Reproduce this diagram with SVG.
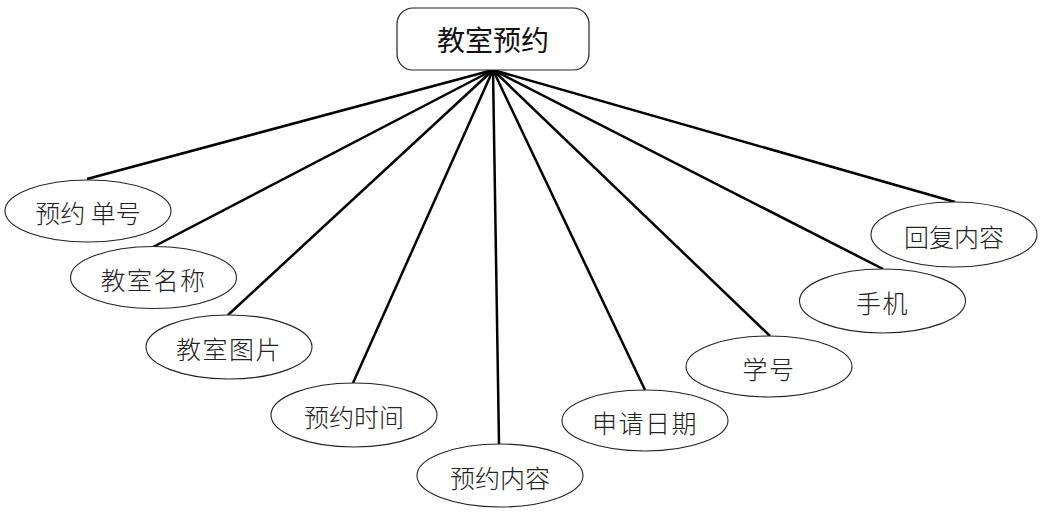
<svg xmlns="http://www.w3.org/2000/svg" width="1050" height="518" viewBox="0 0 1050 518">
<style>
.root{fill:#fff;stroke:#222;stroke-width:1.2}
.attr{fill:#fff;stroke:#222;stroke-width:1.1}
.lbl{font-family:"Noto Sans CJK SC","Noto Sans CJK JP",sans-serif;font-size:25px;fill:#222;text-anchor:middle;dominant-baseline:central;font-weight:300}
.rlbl{font-family:"Noto Sans CJK SC","Noto Sans CJK JP",sans-serif;font-size:28px;fill:#111;text-anchor:middle;dominant-baseline:central}
.edge{stroke:#000;stroke-width:2.5;fill:none}
</style>
<rect width="1050" height="518" fill="#fff"/>
<g id="connectors">
<line class="edge" x1="493" y1="70" x2="87" y2="179"/>
<line class="edge" x1="493" y1="70" x2="153" y2="247"/>
<line class="edge" x1="493" y1="70" x2="228" y2="315"/>
<line class="edge" x1="493" y1="70" x2="353" y2="383"/>
<line class="edge" x1="493" y1="70" x2="499" y2="444"/>
<line class="edge" x1="493" y1="70" x2="645" y2="390"/>
<line class="edge" x1="493" y1="70" x2="770" y2="336"/>
<line class="edge" x1="493" y1="70" x2="883" y2="269"/>
<line class="edge" x1="493" y1="70" x2="955" y2="202"/>
</g>
<g id="root">
<rect class="root" x="397" y="8" width="192" height="62" rx="16"/>
<text class="rlbl" x="493" y="39">教室预约</text>
</g>
<g id="n1"><ellipse class="attr" cx="88" cy="211" rx="83" ry="31"/><text class="lbl" x="88" y="212">预约 单号</text></g>
<g id="n2"><ellipse class="attr" cx="153.5" cy="277.5" rx="83" ry="31"/><text class="lbl" x="153.5" y="278.5" letter-spacing="1.5">教室名称</text></g>
<g id="n3"><ellipse class="attr" cx="229" cy="347" rx="83" ry="32"/><text class="lbl" x="229" y="348" letter-spacing="1.5">教室图片</text></g>
<g id="n4"><ellipse class="attr" cx="354" cy="415" rx="83" ry="32"/><text class="lbl" x="354" y="416">预约时间</text></g>
<g id="n5"><ellipse class="attr" cx="500" cy="475.5" rx="83" ry="31.5"/><text class="lbl" x="500" y="476.5">预约内容</text></g>
<g id="n6"><ellipse class="attr" cx="645" cy="420.5" rx="83" ry="30.5"/><text class="lbl" x="645" y="421.5" letter-spacing="1.5">申请日期</text></g>
<g id="n7"><ellipse class="attr" cx="769" cy="366.5" rx="83" ry="30.5"/><text class="lbl" x="769" y="367.5" letter-spacing="1.5">学号</text></g>
<g id="n8"><ellipse class="attr" cx="882.5" cy="301" rx="83" ry="32"/><text class="lbl" x="882.5" y="302" letter-spacing="1.5">手机</text></g>
<g id="n9"><ellipse class="attr" cx="954" cy="234.5" rx="83" ry="32.5"/><text class="lbl" x="954" y="235.5">回复内容</text></g>
</svg>
